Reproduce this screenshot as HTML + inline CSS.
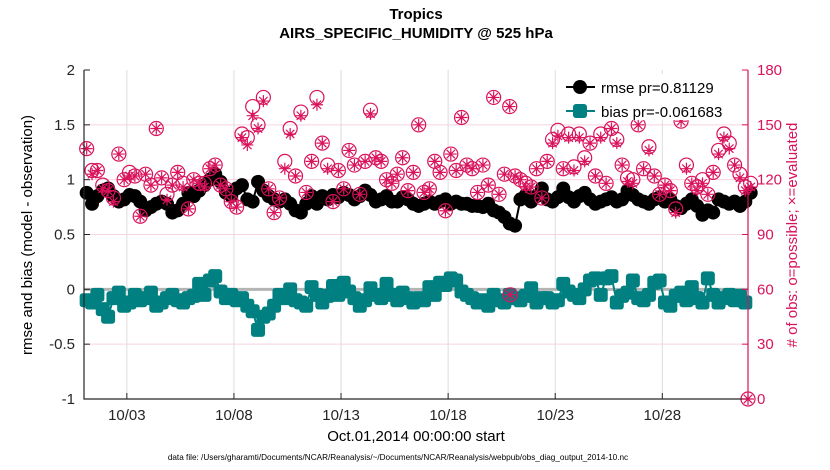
<!DOCTYPE html>
<html><head><meta charset="utf-8">
<style>
body{margin:0;background:#fff;}
svg{display:block;font-family:"Liberation Sans",sans-serif;}
</style></head>
<body>
<svg id="chart" width="830" height="470" viewBox="0 0 830 470" xmlns="http://www.w3.org/2000/svg">
<rect x="0" y="0" width="830" height="470" fill="#fff"/>
<text x="416" y="19" text-anchor="middle" font-size="15" font-weight="bold">Tropics</text>
<text x="416" y="38" text-anchor="middle" font-size="15" font-weight="bold">AIRS_SPECIFIC_HUMIDITY @ 525 hPa</text>
<g id="grid"></g>
<g id="marks"></g>
<g id="axes"></g>
<text transform="translate(32,235) rotate(-90)" text-anchor="middle" font-size="15">rmse and bias (model - observation)</text>
<text transform="translate(797,235) rotate(-90)" text-anchor="middle" font-size="15" fill="#d9135b"># of obs: o=possible; ×=evaluated</text>
<text x="416" y="441" text-anchor="middle" font-size="15">Oct.01,2014 00:00:00 start</text>
<text x="398" y="460" text-anchor="middle" font-size="8.2">data file: /Users/gharamti/Documents/NCAR/Reanalysis/~/Documents/NCAR/Reanalysis/webpub/obs_diag_output_2014-10.nc</text>
<g id="legend">
<rect x="560" y="74" width="184" height="46" fill="#fff"/>
<line x1="566" y1="87" x2="595" y2="87" stroke="#000" stroke-width="2"/>
<circle cx="580" cy="87" r="7" fill="#000"/>
<text x="601" y="93" font-size="15">rmse pr=0.81129</text>
<line x1="566" y1="111" x2="595" y2="111" stroke="#008080" stroke-width="2"/>
<rect x="573" y="104" width="14" height="14" rx="3" fill="#008080"/>
<text x="601" y="117" font-size="15">bias pr=-0.061683</text>
</g>
</svg>
<script>
const rmse=[0.88,0.78,0.85,0.9,0.92,0.85,0.8,0.82,0.86,0.85,0.8,0.72,0.75,0.78,0.8,0.78,0.7,0.72,0.78,0.88,0.85,0.9,0.95,1.0,1.05,0.98,0.88,0.85,0.92,0.95,0.82,0.8,0.98,0.9,0.85,0.82,0.8,0.82,0.78,0.72,0.7,0.78,0.85,
0.78,0.85,0.82,0.86,0.84,0.88,0.86,0.82,0.85,0.9,0.86,0.8,0.82,0.85,0.8,0.8,0.84,0.82,0.78,0.76,0.78,0.8,0.78,0.8,0.82,0.78,0.8,0.78,0.78,0.76,0.76,0.75,0.78,0.72,0.7,0.66,0.6,0.58,0.82,0.86,0.8,0.85,0.92,0.82,
0.8,0.84,0.92,0.84,0.8,0.85,0.88,0.82,0.78,0.8,0.82,0.84,0.8,0.82,0.9,0.86,0.82,0.8,0.78,0.82,0.84,0.8,0.82,0.76,0.74,0.78,0.82,0.76,0.68,0.72,0.7,0.82,0.8,0.78,0.8,0.76,0.8,0.88];
const bias=[-0.1,-0.12,-0.05,-0.18,-0.25,-0.08,-0.03,-0.15,-0.12,-0.05,-0.1,-0.08,-0.03,-0.15,-0.12,-0.08,-0.05,-0.1,-0.12,-0.08,-0.06,0.05,-0.05,0.08,0.12,-0.02,-0.08,-0.05,-0.1,-0.08,-0.15,-0.2,-0.37,-0.25,-0.22,-0.15,-0.05,-0.08,0.0,-0.1,-0.12,-0.15,0.02,
-0.05,-0.12,-0.06,0.03,-0.05,0.06,-0.02,-0.08,-0.15,-0.1,0.01,-0.05,-0.08,0.05,-0.05,-0.1,-0.03,-0.08,-0.12,-0.08,-0.1,0.02,-0.05,0.06,0.04,0.1,0.08,-0.02,-0.05,-0.08,-0.12,-0.1,-0.15,-0.05,-0.1,-0.12,-0.05,-0.08,-0.1,-0.06,0.01,-0.12,-0.08,
-0.08,-0.12,-0.1,0.05,-0.02,-0.05,-0.08,0.0,0.08,0.1,-0.05,0.1,0.12,-0.12,-0.06,-0.03,0.08,-0.08,-0.1,-0.05,0.06,0.08,-0.12,-0.15,-0.06,-0.03,-0.1,0.02,-0.08,-0.12,0.1,-0.05,-0.12,-0.08,-0.05,-0.1,-0.06,-0.12];
const possible=[137,125,125,117,114,110,134,120,124,122,100,123,117,148,121,112,117,124,118,104,120,118,118,126,128,117,115,108,105,145,143,160,150,165,115,102,110,130,148,122,157,113,130,
165,140,128,108,125,115,136,128,112,130,158,132,130,120,118,123,132,114,124,150,113,115,130,124,103,134,125,154,128,126,113,128,117,165,112,123,160,122,120,118,116,126,110,130,
142,147,126,145,127,145,132,140,122,145,118,148,142,128,121,120,150,126,138,122,112,117,114,104,152,128,118,116,120,112,124,136,145,140,128,123,116,118];
const evaluated=[137,123,125,115,114,108,134,120,122,122,100,123,117,148,121,109,117,124,116,104,120,118,116,126,128,117,115,108,105,143,139,155,148,163,115,102,110,126,145,122,155,113,130,
161,140,126,108,125,115,136,128,112,130,156,132,130,120,118,123,132,114,124,150,113,115,130,124,103,134,125,154,128,126,113,128,117,165,112,123,160,122,120,116,116,126,110,130,
140,144,126,143,125,143,130,140,122,143,118,148,140,128,119,118,150,126,136,122,112,117,114,102,152,126,118,114,118,112,124,134,143,137,128,121,114,116];
const extraT=[19.9,31];
const extraObs=[57,0];
const xTicks=[2,7,12,17,22,27];
const xTickLabels=["10/03","10/08","10/13","10/18","10/23","10/28"];
const yTicks=[-1,-0.5,0,0.5,1,1.5,2];
const yTickLabels=["-1","-0.5","0","0.5","1","1.5","2"];
const rTicks=[0,30,60,90,120,150,180];

const L=84,R=748,T=70,B=399;
const xS=t=>L+t*(R-L)/31;
const yS=v=>B-(v+1)*(B-T)/3;
const rS=v=>B-v*(B-T)/180;
const NS="http://www.w3.org/2000/svg";
function mk(p,tag,a){const e=document.createElementNS(NS,tag);for(const k in a)e.setAttribute(k,a[k]);p.appendChild(e);return e;}
const grid=document.getElementById('grid'),marks=document.getElementById('marks'),axes=document.getElementById('axes');
const PINK="#d9135b";
xTicks.forEach(t=>{const g=mk(grid,'line',{x1:xS(t),x2:xS(t),y1:T,y2:B,stroke:"#dcdcdc","stroke-width":1});

});
rTicks.forEach(v=>{if(v===0||v===180)return;const g=mk(grid,'line',{x1:L,x2:R,y1:rS(v),y2:rS(v),stroke:"#f6d3e0","stroke-width":1});

});
const z=mk(grid,'line',{x1:L,x2:R,y1:yS(0),y2:yS(0),stroke:"#b4b4b4","stroke-width":3});


const tAt=i=>0.125+0.25*i;
function drawObs(t,p,e){
 const x=xS(t);
 const c=mk(marks,'circle',{cx:x,cy:rS(p),r:7,fill:"none",stroke:PINK,"stroke-width":1.2});
 
 
 const y=rS(e),s=6;
 const st=mk(marks,'path',{d:`M${x-s} ${y}H${x+s}M${x} ${y-s}V${y+s}M${x-4.2} ${y-4.2}L${x+4.2} ${y+4.2}M${x-4.2} ${y+4.2}L${x+4.2} ${y-4.2}`,stroke:PINK,"stroke-width":1.2,fill:"none"});
 
 
}
const rl=mk(marks,'polyline',{points:rmse.map((v,i)=>xS(tAt(i))+","+yS(v)).join(" "),fill:"none",stroke:"#000","stroke-width":2});


rmse.forEach((v,i)=>{const c=mk(marks,'circle',{cx:xS(tAt(i)),cy:yS(v),r:7,fill:"#000"});

});
const bl=mk(marks,'polyline',{points:bias.map((v,i)=>xS(tAt(i))+","+yS(v)).join(" "),fill:"none",stroke:"#008080","stroke-width":2});


bias.forEach((v,i)=>{const c=mk(marks,'rect',{x:xS(tAt(i))-7,y:yS(v)-7,width:14,height:14,rx:3,fill:"#008080"});

});
possible.forEach((p,i)=>drawObs(tAt(i),p,evaluated[i]));
extraT.forEach((t,i)=>drawObs(t,extraObs[i],extraObs[i]));
const ax=mk(axes,'path',{d:`M${L} ${T}V${B}H${R}`,stroke:"#262626","stroke-width":1.2,fill:"none"});


const ra=mk(axes,'line',{x1:R,x2:R,y1:T,y2:B,stroke:PINK,"stroke-width":1.2});


yTicks.forEach((v,i)=>{mk(axes,'line',{x1:L,x2:L+6,y1:yS(v),y2:yS(v),stroke:"#262626"});
const t=mk(axes,'text',{x:L-9,y:yS(v)+5,"text-anchor":"end","font-size":15,fill:"#262626"});t.textContent=yTickLabels[i];

});
rTicks.forEach(v=>{mk(axes,'line',{x1:R-6,x2:R,y1:rS(v),y2:rS(v),stroke:PINK});
const t=mk(axes,'text',{x:R+9,y:rS(v)+5,"font-size":15,fill:PINK});t.textContent=v;

});
xTicks.forEach((v,i)=>{mk(axes,'line',{x1:xS(v),x2:xS(v),y1:B,y2:B-6,stroke:"#262626"});
const t=mk(axes,'text',{x:xS(v),y:B+21,"text-anchor":"middle","font-size":15,fill:"#262626"});t.textContent=xTickLabels[i];

});
document.getElementById('chart').appendChild(document.getElementById('legend'));
</script>
</body></html>
